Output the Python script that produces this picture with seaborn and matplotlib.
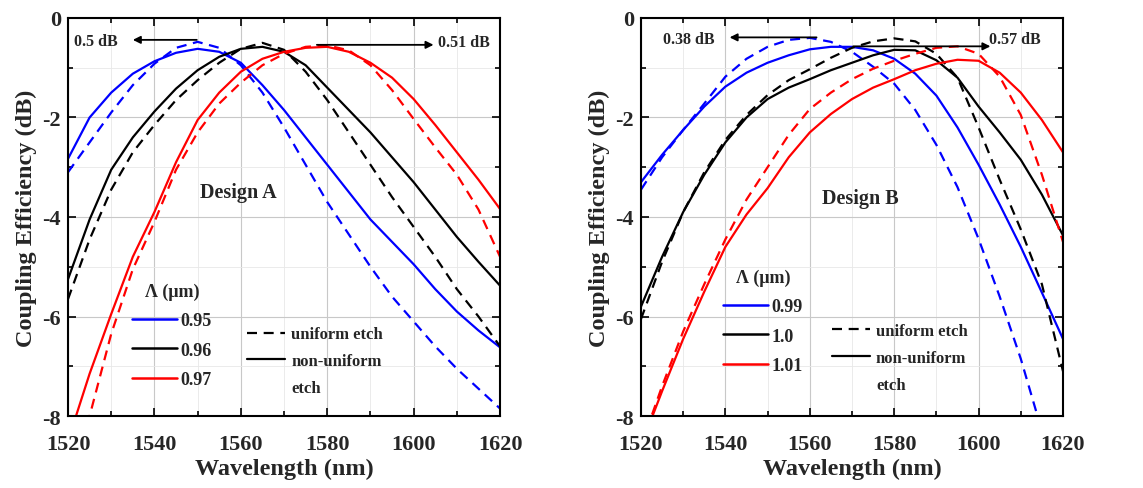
import matplotlib
matplotlib.use("Agg")
import matplotlib.pyplot as plt
import numpy as np
import pandas as pd
import seaborn as sns
from matplotlib.lines import Line2D
from matplotlib.ticker import MultipleLocator

# ---------------- data ----------------
wavelength = [1520, 1525, 1530, 1535, 1540, 1545, 1550, 1555, 1560, 1565, 1570,
              1575, 1580, 1585, 1590, 1595, 1600, 1605, 1610, 1615, 1620]

# Design A
a_095_nonuniform = [-2.83, -2.0, -1.5, -1.12, -0.87, -0.7, -0.62, -0.68, -0.9, -1.35, -1.85,
                    -2.4, -2.95, -3.5, -4.05, -4.5, -4.95, -5.45, -5.9, -6.28, -6.62]
a_095_uniform = [-3.1, -2.5, -1.9, -1.35, -0.92, -0.6, -0.48, -0.6, -0.95, -1.5, -2.2,
                 -2.95, -3.7, -4.35, -5.0, -5.6, -6.1, -6.6, -7.05, -7.45, -7.85]
a_096_nonuniform = [-5.25, -4.05, -3.05, -2.4, -1.88, -1.42, -1.05, -0.78, -0.62, -0.58, -0.68,
                    -0.95, -1.4, -1.85, -2.3, -2.8, -3.3, -3.85, -4.4, -4.9, -5.38]
a_096_uniform = [-5.65, -4.45, -3.45, -2.7, -2.15, -1.65, -1.25, -0.9, -0.62, -0.5, -0.64,
                 -1.08, -1.65, -2.3, -2.95, -3.6, -4.2, -4.8, -5.45, -6.0, -6.6]
a_097_nonuniform = [-8.5, -7.15, -5.95, -4.8, -3.9, -2.9, -2.05, -1.5, -1.08, -0.82, -0.68,
                    -0.6, -0.58, -0.68, -0.9, -1.2, -1.63, -2.15, -2.7, -3.25, -3.84]
a_097_uniform = [-9.6, -8.0, -6.35, -5.05, -4.1, -3.05, -2.3, -1.72, -1.3, -0.95, -0.72,
                 -0.58, -0.55, -0.65, -0.95, -1.45, -2.03, -2.6, -3.15, -3.85, -4.8]

# Design B
b_099_nonuniform = [-3.3, -2.75, -2.25, -1.78, -1.38, -1.1, -0.9, -0.75, -0.63, -0.58, -0.58,
                    -0.65, -0.82, -1.12, -1.56, -2.2, -2.95, -3.75, -4.6, -5.52, -6.45]
b_099_uniform = [-3.45, -2.8, -2.25, -1.72, -1.18, -0.82, -0.58, -0.44, -0.4, -0.48, -0.68,
                 -0.98, -1.32, -1.85, -2.55, -3.4, -4.44, -5.6, -6.85, -8.3, -9.6]
b_100_nonuniform = [-5.8, -4.8, -3.9, -3.15, -2.5, -2.0, -1.63, -1.4, -1.23, -1.05, -0.9,
                    -0.75, -0.64, -0.65, -0.85, -1.2, -1.78, -2.3, -2.85, -3.55, -4.37]
b_100_uniform = [-6.05, -4.9, -3.9, -3.1, -2.45, -1.95, -1.55, -1.25, -1.03, -0.8, -0.6,
                 -0.47, -0.41, -0.47, -0.72, -1.2, -2.2, -3.25, -4.25, -5.35, -7.1]
b_101_nonuniform = [-8.6, -7.5, -6.45, -5.5, -4.6, -3.95, -3.42, -2.8, -2.3, -1.93, -1.63,
                    -1.4, -1.23, -1.05, -0.92, -0.84, -0.86, -1.1, -1.5, -2.05, -2.7]
b_101_uniform = [-8.6, -7.4, -6.3, -5.35, -4.45, -3.65, -3.0, -2.35, -1.83, -1.5, -1.23,
                 -1.02, -0.86, -0.72, -0.6, -0.57, -0.72, -1.18, -1.95, -3.15, -4.5]

periods_a = ["0.95", "0.96", "0.97"]
periods_b = ["0.99", "1.0", "1.01"]
colors = ["#0000ff", "#000000", "#ff0000"]
etch_labels = ["uniform etch", "non-uniform etch"]


def build_frame(periods, nonuniform, uniform):
    rows = []
    for p, nu, u in zip(periods, nonuniform, uniform):
        for w, v in zip(wavelength, u):
            rows.append((w, v, p, etch_labels[0]))
        for w, v in zip(wavelength, nu):
            rows.append((w, v, p, etch_labels[1]))
    return pd.DataFrame(rows, columns=["wl", "ce", "period", "etch"])


df_a = build_frame(periods_a, [a_095_nonuniform, a_096_nonuniform, a_097_nonuniform],
                   [a_095_uniform, a_096_uniform, a_097_uniform])
df_b = build_frame(periods_b, [b_099_nonuniform, b_100_nonuniform, b_101_nonuniform],
                   [b_099_uniform, b_100_uniform, b_101_uniform])

# ---------------- style ----------------
sns.set_style("ticks")
plt.rcParams["font.family"] = ["Liberation Serif", "DejaVu Serif"]
plt.rcParams["font.weight"] = "bold"
plt.rcParams["axes.labelweight"] = "bold"
plt.rcParams["axes.unicode_minus"] = False

fig = plt.figure(figsize=(11.43, 4.89), dpi=100)
ax_a = fig.add_axes([0.0595, 0.1472, 0.378, 0.814])
ax_b = fig.add_axes([0.5608, 0.1472, 0.3692, 0.814])

dash_map = {etch_labels[0]: (4.5, 3), etch_labels[1]: ""}


def draw_panel(ax, df, periods, design_text, design_xy, leg1_xy, leg2_xy,
               left_note, right_note):
    pal = dict(zip(periods, colors))
    sns.lineplot(data=df, x="wl", y="ce", hue="period", style="etch",
                 palette=pal, dashes=dash_map, hue_order=periods,
                 style_order=etch_labels, estimator=None, sort=False,
                 linewidth=1.6, legend=False, ax=ax)
    ax.set_xlim(1520, 1620)
    ax.set_ylim(-8, 0)
    ax.xaxis.set_major_locator(MultipleLocator(20))
    ax.xaxis.set_minor_locator(MultipleLocator(10))
    ax.yaxis.set_major_locator(MultipleLocator(2))
    ax.yaxis.set_minor_locator(MultipleLocator(1))
    ax.grid(which="major", color="#c8c8c8", lw=0.8)
    ax.grid(which="minor", color="#e8e8e8", lw=0.6)
    ax.set_axisbelow(True)
    for s in ax.spines.values():
        s.set_linewidth(1.5)
        s.set_color("black")
    ax.tick_params(which="both", direction="in", top=True, right=True,
                   width=1.2, color="black")
    ax.tick_params(which="major", length=6, labelsize=16, pad=5)
    ax.tick_params(axis="x", which="major", pad=13)
    ax.tick_params(which="minor", length=3.5)
    for lab in ax.get_xticklabels() + ax.get_yticklabels():
        lab.set_fontweight("bold")
    ax.set_xlabel("Wavelength (nm)", fontsize=17.5, fontweight="bold", labelpad=3)
    ax.set_ylabel("Coupling Efficiency (dB)", fontsize=17.5, fontweight="bold", labelpad=4)

    ax.text(design_xy[0], design_xy[1], design_text, fontsize=14.5,
            fontweight="bold", ha="center", va="center")

    # annotations
    (lt, lxy, la0, la1) = left_note
    (rt, rxy, ra0, ra1) = right_note
    ax.text(lxy[0], lxy[1], lt, fontsize=11.5, fontweight="bold", ha="left", va="center")
    ax.annotate("", xy=la1, xytext=la0,
                arrowprops=dict(arrowstyle="-|>", color="black", lw=1.3,
                                mutation_scale=11, shrinkA=0, shrinkB=0))
    ax.text(rxy[0], rxy[1], rt, fontsize=11.5, fontweight="bold", ha="left", va="center")
    ax.annotate("", xy=ra1, xytext=ra0,
                arrowprops=dict(arrowstyle="-|>", color="black", lw=1.3,
                                mutation_scale=11, shrinkA=0, shrinkB=0))

    # legends
    h1 = [Line2D([], [], color=c, lw=1.8) for c in colors]
    leg1 = ax.legend(h1, periods, title="\u039b (\u03bcm)", loc="upper left",
                     bbox_to_anchor=leg1_xy, frameon=False, fontsize=13,
                     title_fontsize=13, handlelength=2.5, handletextpad=0.2,
                     labelspacing=0.68, borderpad=0, borderaxespad=0)
    leg1.get_title().set_fontweight("bold")
    for t in leg1.get_texts():
        t.set_fontweight("bold")
    ax.add_artist(leg1)
    h2 = [Line2D([], [], color="black", lw=1.6, dashes=(4.5, 3)),
          Line2D([], [], color="black", lw=1.6),
          Line2D([], [], color="none", lw=1.6)]
    leg2 = ax.legend(h2, ["uniform etch", "non-uniform", "etch"], loc="upper left",
                     bbox_to_anchor=leg2_xy, frameon=False, fontsize=12,
                     handlelength=2.3, handletextpad=0.35, labelspacing=0.65,
                     borderpad=0, borderaxespad=0)
    for t in leg2.get_texts():
        t.set_fontweight("bold")


draw_panel(ax_a, df_a, periods_a, "Design A", (1559.5, -3.5),
           (0.148, 0.335), (0.414, 0.225),
           ("0.5 dB", (1521.5, -0.47), (1549.8, -0.44), (1535.0, -0.44)),
           ("0.51 dB", (1605.6, -0.49), (1577.6, -0.54), (1604.6, -0.54)))
draw_panel(ax_b, df_b, periods_b, "Design B", (1572, -3.62),
           (0.194, 0.37), (0.452, 0.234),
           ("0.38 dB", (1525.2, -0.42), (1561.6, -0.39), (1541.0, -0.39)),
           ("0.57 dB", (1602.4, -0.42), (1570.3, -0.57), (1602.8, -0.57)))

fig.savefig("out.png", dpi=100)
